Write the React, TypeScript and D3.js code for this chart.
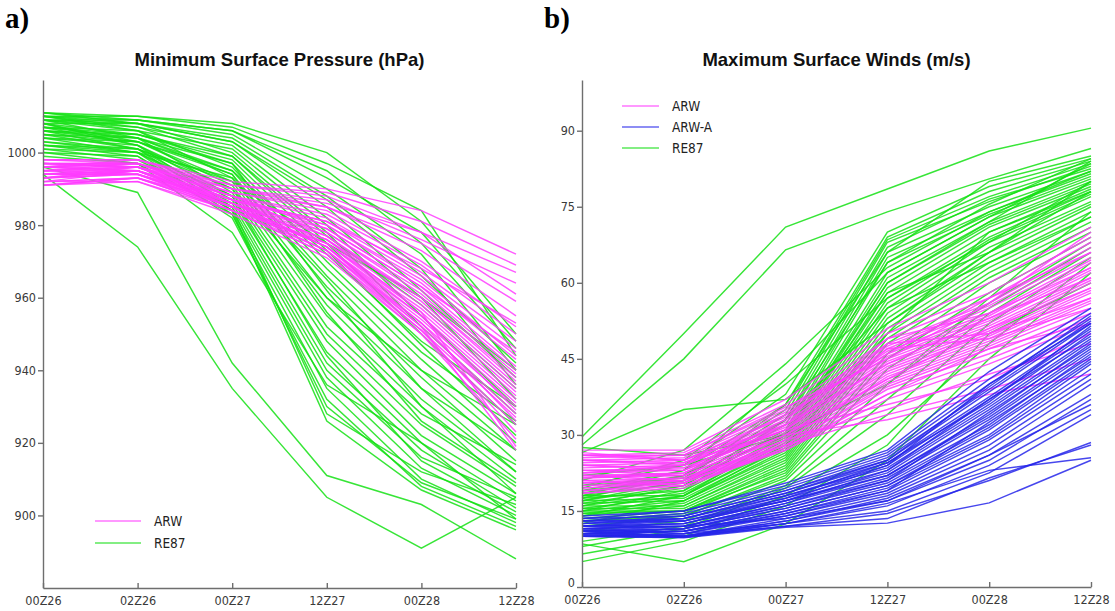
import React, { useEffect, useRef } from "react";
import * as d3 from "d3";

// forecast times (x axis)
const times = ["00Z26", "02Z26", "00Z27", "12Z27", "00Z28", "12Z28"];

const pressureTicks = [900, 920, 940, 960, 980, 1000];
const windTicks = [0, 15, 30, 45, 60, 75, 90];

// a) minimum surface pressure (hPa), one row per ensemble member
const pressureARW = [
  [998, 998, 992, 990, 984, 972],
  [997, 997, 991, 989, 981, 969],
  [996, 998, 991, 988, 978, 967],
  [995, 997, 990, 987, 976, 964],
  [997, 996, 990, 985, 975, 959],
  [994, 996, 989, 985, 973, 955],
  [996, 997, 989, 984, 970, 952],
  [993, 995, 988, 983, 969, 950],
  [995, 996, 988, 982, 967, 948],
  [992, 995, 987, 981, 966, 946],
  [997, 997, 988, 980, 965, 944],
  [994, 994, 987, 980, 964, 943],
  [991, 993, 986, 979, 963, 941],
  [996, 996, 987, 978, 962, 940],
  [993, 995, 986, 978, 961, 939],
  [995, 994, 986, 977, 960, 938],
  [992, 993, 985, 976, 960, 937],
  [998, 997, 988, 977, 959, 936],
  [994, 995, 986, 976, 958, 935],
  [991, 992, 984, 975, 957, 934],
  [996, 995, 985, 975, 956, 933],
  [993, 994, 985, 974, 955, 932],
  [995, 996, 986, 974, 954, 931],
  [992, 993, 984, 973, 953, 930],
  [997, 996, 987, 975, 955, 929],
  [994, 994, 985, 973, 952, 928],
  [991, 993, 984, 972, 951, 927],
  [996, 995, 986, 974, 953, 926],
  [993, 994, 984, 972, 950, 925],
  [995, 995, 985, 973, 951, 923],
  [992, 992, 983, 971, 950, 921],
  [997, 996, 986, 976, 956, 919],
  [994, 995, 985, 974, 952, 918],
  [996, 997, 988, 979, 963, 945],
  [993, 996, 987, 981, 968, 953],
  [998, 998, 990, 986, 978, 961],
];

const pressureRE87 = [
  [1011, 1010, 1008, 1000, 981, 950],
  [1010, 1010, 1007, 997, 984, 944],
  [1009, 1009, 1006, 993, 978, 948],
  [1011, 1009, 1005, 990, 972, 940],
  [1008, 1008, 1004, 988, 968, 936],
  [1010, 1008, 1003, 985, 962, 938],
  [1009, 1007, 1002, 982, 960, 932],
  [1007, 1006, 1001, 980, 955, 930],
  [1011, 1008, 1000, 978, 952, 928],
  [1010, 1007, 999, 975, 950, 925],
  [1008, 1005, 998, 973, 947, 922],
  [1006, 1005, 997, 970, 945, 926],
  [1009, 1006, 996, 968, 943, 920],
  [1007, 1004, 995, 966, 940, 918],
  [1005, 1004, 994, 963, 938, 915],
  [1010, 1006, 993, 960, 935, 918],
  [1008, 1003, 992, 958, 932, 912],
  [1006, 1003, 991, 955, 930, 910],
  [1004, 1002, 990, 952, 928, 914],
  [1009, 1004, 989, 950, 925, 908],
  [1007, 1002, 988, 948, 922, 906],
  [1005, 1001, 987, 945, 920, 904],
  [1003, 1000, 986, 942, 918, 902],
  [1008, 1002, 985, 940, 916, 905],
  [1006, 1001, 984, 938, 913, 900],
  [1004, 1000, 983, 935, 910, 898],
  [1002, 999, 982, 932, 908, 897],
  [1001, 998, 985, 928, 912, 903],
  [1000, 999, 984, 926, 907, 896],
  [999, 997, 983, 930, 909, 899],
  [1003, 1001, 990, 960, 940, 925],
  [1005, 1003, 995, 972, 948, 930],
  [1002, 1000, 993, 965, 935, 912],
  [1007, 1005, 999, 977, 958, 935],
  [1009, 1008, 1003, 987, 966, 942],
  [1004, 1003, 994, 956, 926, 909],
  [1006, 1004, 997, 962, 930, 906],
  [1001, 1000, 988, 944, 915, 901],
  [994, 974, 935, 905, 891, 905],
  [996, 989, 942, 911, 903, 888],
  [1000, 997, 978, 936, 920, 899],
  [1002, 1001, 992, 975, 960, 940],
  [1010, 1009, 1006, 995, 975, 946],
];

// b) maximum surface winds (m/s)
const windARW = [
  [27, 27, 37, 51, 60, 71],
  [26, 26.5, 36, 50, 58, 69],
  [25.5, 26, 35, 49, 57, 68],
  [25, 25.5, 34.5, 48, 56, 67],
  [26.5, 25, 34, 47.5, 55.5, 66],
  [24.5, 25, 33.5, 47, 55, 65],
  [24, 24.5, 33, 46.5, 54, 64.5],
  [25, 24, 32.5, 46, 53.5, 64],
  [23.5, 24, 32, 45.5, 53, 63],
  [23, 23.5, 31.5, 45, 52.5, 62.5],
  [24, 23, 31, 44.5, 52, 62],
  [22.5, 23, 31, 44, 51.5, 61],
  [22, 22.5, 30.5, 43.5, 51, 60.5],
  [23, 22, 30, 43, 50.5, 60],
  [21.5, 22, 30, 42.5, 50, 59],
  [21, 21.5, 29.5, 42, 49.5, 58.5],
  [22, 21, 29, 41.5, 49, 58],
  [20.5, 21, 29, 41, 48.5, 57],
  [20, 20.5, 28.5, 40.5, 48, 56.5],
  [21, 20, 28, 40, 47.5, 56],
  [19.5, 20.5, 28, 39.5, 47, 55],
  [19, 20, 27.5, 39, 46, 54],
  [20, 21, 27, 38, 45, 53],
  [18.5, 20, 27, 37, 44, 52],
  [19, 20.5, 29, 35, 42, 48],
  [20.5, 21.5, 28, 34, 39, 45],
  [22, 22, 30, 33, 38, 42],
  [24, 23.5, 31, 36, 41, 50],
  [26, 25, 32, 48, 50, 57],
  [25, 24.5, 31, 47, 49, 55],
  [23, 23, 33, 49, 54, 63],
  [21.5, 22.5, 32, 44, 53, 61],
  [22.5, 24, 34, 46, 57, 66],
  [19.5, 21, 30, 41, 51, 59],
  [18.5, 19.5, 27.5, 38, 47, 52],
  [26, 26, 35.5, 45, 56, 70],
];

const windARWA = [
  [14, 15, 20.5, 27, 42.5, 55],
  [13.5, 15, 20, 26.5, 41, 54],
  [13, 14.5, 19.5, 26, 40, 53],
  [13.5, 14, 19, 25.5, 39, 52.5],
  [12.5, 14, 19, 25, 38.5, 52],
  [13, 13.5, 18.5, 24.5, 37.5, 51],
  [12, 13.5, 18, 24, 37, 50.5],
  [12.5, 13, 18, 23.5, 36, 50],
  [12, 13, 17.5, 23, 35.5, 49],
  [11.5, 12.5, 17, 22.5, 35, 48.5],
  [12, 12.5, 17, 22, 34, 48],
  [11, 12, 16.5, 22, 33.5, 47],
  [11.5, 12, 16, 21.5, 33, 46.5],
  [11, 11.5, 16, 21, 32, 46],
  [10.5, 11.5, 15.5, 20.5, 31.5, 45],
  [11, 11, 15, 20, 31, 44.5],
  [10.5, 11, 15, 20, 30, 44],
  [10, 10.5, 14.5, 19.5, 29.5, 43],
  [10.5, 11, 14, 19, 29, 42],
  [10, 10.5, 14, 18.5, 28, 41],
  [11, 10, 13.5, 18, 27, 40],
  [10, 10, 13, 17.5, 26, 38],
  [10.5, 10, 13, 17, 25, 37],
  [10, 9.8, 12.5, 16, 24, 35],
  [11, 10, 12.5, 15, 22.5, 34],
  [10.5, 10, 12, 14.5, 21, 28.5],
  [10, 9.8, 12, 13.5, 21.5, 28],
  [11.5, 10.5, 12.5, 16.5, 23, 25.5],
  [10, 9.7, 11.8, 12.6, 16.6, 25],
  [12, 12, 13.5, 17, 26, 36],
  [13, 13, 17, 24, 40, 52],
  [12.5, 13.5, 18.5, 25, 39.5, 53.5],
  [11.5, 12, 16.5, 23, 37, 49.5],
  [12, 12.5, 17.5, 24.5, 36.5, 51.5],
  [11, 11.5, 15.5, 21, 34.5, 47.5],
  [10.5, 11, 14.5, 19, 32.5, 45.5],
];

const windRE87 = [
  [29.6, 50, 71, 78.5, 86, 90.5],
  [28, 45, 66.5, 74, 80.5, 86.5],
  [26.5, 35, 37, 52, 66, 78],
  [27.5, 26, 30, 60, 72, 84],
  [20, 24, 38, 70, 79, 84.5],
  [19, 23, 36, 69, 78, 84],
  [18.5, 22, 35, 68.5, 77, 83.5],
  [20, 21.5, 34, 68, 76, 83],
  [17.5, 22, 33, 67, 76.5, 82.5],
  [19, 21, 32, 66, 75, 82],
  [17, 20, 31, 65, 74, 81.5],
  [18, 20.5, 30.5, 64, 73.5, 81],
  [16.5, 19.5, 30, 62, 73, 80.5],
  [17.5, 19, 29.5, 61, 72, 80],
  [16, 18.5, 29, 60, 71.5, 79.5],
  [18, 18, 28.5, 59, 71, 79],
  [15.5, 18, 28, 58, 70, 78.5],
  [17, 17.5, 27.5, 57, 69, 78],
  [15, 17, 27, 56, 68.5, 77.5],
  [16.5, 17, 26.5, 55, 68, 77],
  [14.5, 16.5, 26, 54, 67, 76],
  [16, 16, 25.5, 53, 66, 75.5],
  [14, 16, 25, 52, 65, 75],
  [15.5, 15.5, 24.5, 51, 64, 74],
  [13.5, 15, 24, 50, 63, 73],
  [15, 15, 23.5, 49, 62, 72],
  [13, 14.5, 23, 48, 61, 71],
  [14.5, 15, 22.5, 46, 60, 70],
  [13, 14, 22, 45, 58, 69],
  [12, 14, 21.5, 43, 56, 68],
  [11, 13, 21, 40, 55, 67],
  [9, 12, 20, 37, 54, 66],
  [8, 11.5, 19.5, 34, 52, 65],
  [6.5, 10, 18, 30, 48, 64],
  [8.5, 5, 12.5, 25, 45, 62],
  [5, 9, 16, 28, 50, 60],
  [22, 24, 30, 40, 57, 74],
  [19.5, 25, 40, 57, 68, 80],
  [21, 27, 44, 63, 74, 82],
  [18, 23, 41, 62, 73, 83.5],
  [17, 21, 36, 66, 80, 85],
  [16, 20, 33, 64, 75.5, 84.5],
  [14, 18, 30, 58, 66, 80],
  [12.5, 17, 28, 50, 70, 78],
  [15, 19, 33, 55, 64, 73],
];

const GREEN = "#14e014";
const MAGENTA = "#ff3cff";
const BLUE = "#2626ea";

const tickFont = "'DejaVu Sans Condensed', 'Liberation Sans Narrow', Arial, sans-serif";

const App = () => {
  const svgRef = useRef(null);

  useEffect(() => {
    if (!svgRef.current) return;
    const svg = d3.select(svgRef.current);
    svg.selectAll("*").remove();

    const drawPanel = (cfg) => {
      const x = d3.scalePoint().domain(times).range([cfg.left, cfg.right]);
      const y = d3.scaleLinear().domain(cfg.domain).range([cfg.bottom, cfg.top]);
      const g = svg.append("g");

      const line = d3
        .line()
        .x((d, i) => x(times[i]))
        .y((d) => y(d));

      // ensemble members
      cfg.series.forEach((s) => {
        g.append("g")
          .selectAll("path")
          .data(s.members)
          .enter()
          .append("path")
          .attr("d", (d) => line(d))
          .attr("fill", "none")
          .attr("stroke", s.color)
          .attr("stroke-width", 1.45)
          .attr("stroke-opacity", 0.85);
      });

      // axes
      const yAxis = d3
        .axisLeft(y)
        .tickValues(cfg.ticks)
        .tickSizeInner(5)
        .tickSizeOuter(0)
        .tickPadding(2)
        .tickFormat(d3.format("d"));
      const xAxis = d3
        .axisBottom(x)
        .tickSizeInner(-5)
        .tickSizeOuter(0)
        .tickPadding(8);

      const ya = g.append("g").attr("transform", `translate(${cfg.left},0)`).call(yAxis);
      const xa = g.append("g").attr("transform", `translate(0,${cfg.bottom})`).call(xAxis);
      [ya, xa].forEach((a) => {
        a.attr("font-family", tickFont).attr("font-size", 12.5);
        a.selectAll("path, line").attr("stroke", "#6e6e6e").attr("stroke-width", 1.4);
        a.selectAll("text").attr("fill", "#3a3a3a");
      });
      // the lowest y label sits a little higher so it clears the time labels
      ya.selectAll(".tick text")
        .filter((d) => d === cfg.domain[0])
        .attr("dy", "-0.05em");

      // title
      g.append("text")
        .attr("x", (cfg.left + cfg.right) / 2)
        .attr("y", 66)
        .attr("text-anchor", "middle")
        .attr("font-family", "'Liberation Sans', Arial, sans-serif")
        .attr("font-weight", "bold")
        .attr("font-size", 18.5)
        .attr("fill", "#111")
        .text(cfg.title);

      // panel letter
      g.append("text")
        .attr("x", cfg.letterX)
        .attr("y", 28)
        .attr("font-family", "'Liberation Serif', 'Times New Roman', serif")
        .attr("font-weight", "bold")
        .attr("font-size", 29)
        .attr("fill", "#000")
        .text(cfg.letter);

      // legend
      cfg.series
        .slice()
        .sort((a, b) => a.order - b.order)
        .forEach((s, i) => {
          const ly = cfg.legendY + i * cfg.legendStep;
          g.append("line")
            .attr("x1", cfg.legendX)
            .attr("x2", cfg.legendX + cfg.legendLen)
            .attr("y1", ly)
            .attr("y2", ly)
            .attr("stroke", s.color)
            .attr("stroke-opacity", 0.7)
            .attr("stroke-width", 1.5);
          g.append("text")
            .attr("x", cfg.legendX + cfg.legendLen + 13)
            .attr("y", ly + 5)
            .attr("font-family", tickFont)
            .attr("font-size", 13.5)
            .attr("fill", "#222")
            .text(s.name);
        });
    };

    drawPanel({
      left: 43,
      right: 516,
      top: 80,
      bottom: 588,
      domain: [880, 1020],
      ticks: pressureTicks,
      title: "Minimum Surface Pressure (hPa)",
      letter: "a)",
      letterX: 5,
      legendX: 95,
      legendLen: 46,
      legendY: 521,
      legendStep: 22,
      series: [
        { name: "RE87", color: GREEN, members: pressureRE87, order: 1 },
        { name: "ARW", color: MAGENTA, members: pressureARW, order: 0 },
      ],
    });

    drawPanel({
      left: 582,
      right: 1091,
      top: 80,
      bottom: 587,
      domain: [0, 100],
      ticks: windTicks,
      title: "Maximum Surface Winds (m/s)",
      letter: "b)",
      letterX: 544,
      legendX: 622,
      legendLen: 37,
      legendY: 106,
      legendStep: 21,
      series: [
        { name: "RE87", color: GREEN, members: windRE87, order: 2 },
        { name: "ARW", color: MAGENTA, members: windARW, order: 0 },
        { name: "ARW-A", color: BLUE, members: windARWA, order: 1 },
      ],
    });
  }, []);

  return (
    <svg
      ref={svgRef}
      width={1115}
      height={611}
      style={{ position: "absolute", left: 0, top: 0, background: "#ffffff" }}
    ></svg>
  );
};

export default App;
